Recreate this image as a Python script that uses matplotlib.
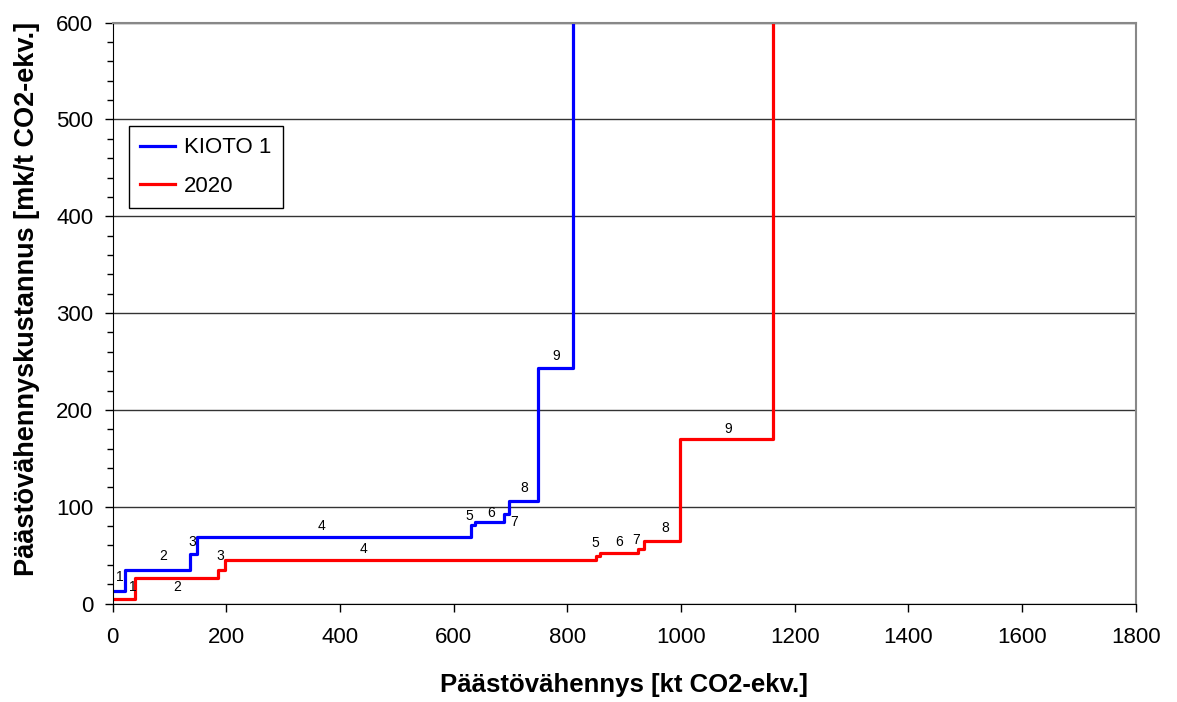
import matplotlib
matplotlib.use("Agg")
import matplotlib.pyplot as plt
from matplotlib.ticker import MultipleLocator

# step edges (kt CO2-ekv.) and costs (mk/t) for each measure 1..9
kioto_x = [0, 21, 136, 149, 630, 637, 688, 698, 749, 810]
kioto_y = [13, 35, 51, 69, 81, 84, 92, 106, 243, 700]
y2020_x = [0, 40, 185, 197, 851, 858, 925, 935, 998, 1162]
y2020_y = [4.5, 26.5, 35, 45, 49, 52, 56, 65, 170, 700]

labels = ["1", "2", "3", "4", "5", "6", "7", "8", "9"]
# label anchor points
kioto_lab_x = [13, 88, 140, 368, 627, 666, 706, 724, 780]
kioto_lab_y = [27, 49, 64, 80, 90, 94, 84, 119, 256]
y2020_lab_x = [36, 113, 189, 442, 849, 891, 921, 972, 1083]
y2020_lab_y = [17, 17, 49, 56, 62, 64, 66, 78, 180]

plt.rcParams['font.family'] = ['Liberation Sans', 'DejaVu Sans']

fig = plt.figure(figsize=(11.77, 7.02), dpi=100)
ax = fig.add_axes([0.0958, 0.1403, 0.8691, 0.8274])

ax.step(kioto_x, kioto_y, where='post', color='#0000FF', lw=2.3, label='KIOTO 1')
ax.step(y2020_x, y2020_y, where='post', color='#FF0000', lw=2.3, label='2020')

for t, x, y in zip(labels, kioto_lab_x, kioto_lab_y):
    ax.text(x, y, t, fontsize=10, ha='center', va='center')
for t, x, y in zip(labels, y2020_lab_x, y2020_lab_y):
    ax.text(x, y, t, fontsize=10, ha='center', va='center')

ax.set_xlim(0, 1800)
ax.set_ylim(0, 600)
ax.xaxis.set_major_locator(MultipleLocator(200))
ax.yaxis.set_major_locator(MultipleLocator(100))
ax.yaxis.set_minor_locator(MultipleLocator(20))
ax.tick_params(axis='both', which='major', direction='out', length=6, width=1, labelsize=16)
ax.tick_params(axis='x', which='major', pad=11)
ax.tick_params(axis='y', which='major', pad=8)
ax.tick_params(axis='y', which='minor', direction='out', length=4, width=1)
ax.grid(axis='y', which='major', color='#333333', lw=1)
ax.set_axisbelow(True)

for s in ['top', 'right']:
    ax.spines[s].set_color('#888888')
    ax.spines[s].set_linewidth(1.5)
for s in ['left', 'bottom']:
    ax.spines[s].set_color('black')

ax.set_xlabel("Päästövähennys [kt CO2-ekv.]", fontsize=18.5, fontweight='bold', labelpad=18)
ax.set_ylabel("Päästövähennyskustannus [mk/t CO2-ekv.]", fontsize=19.5, fontweight='bold')
ax.yaxis.set_label_coords(-0.071, 0.524)

leg = ax.legend(loc='upper left', bbox_to_anchor=(0.0155, 0.8217), fontsize=16,
                fancybox=False, edgecolor='black', framealpha=1, handlelength=1.6,
                handletextpad=0.4, borderpad=0.5, labelspacing=0.8, borderaxespad=0)
leg.get_frame().set_linewidth(1)

fig.savefig("out.png", dpi=100)
